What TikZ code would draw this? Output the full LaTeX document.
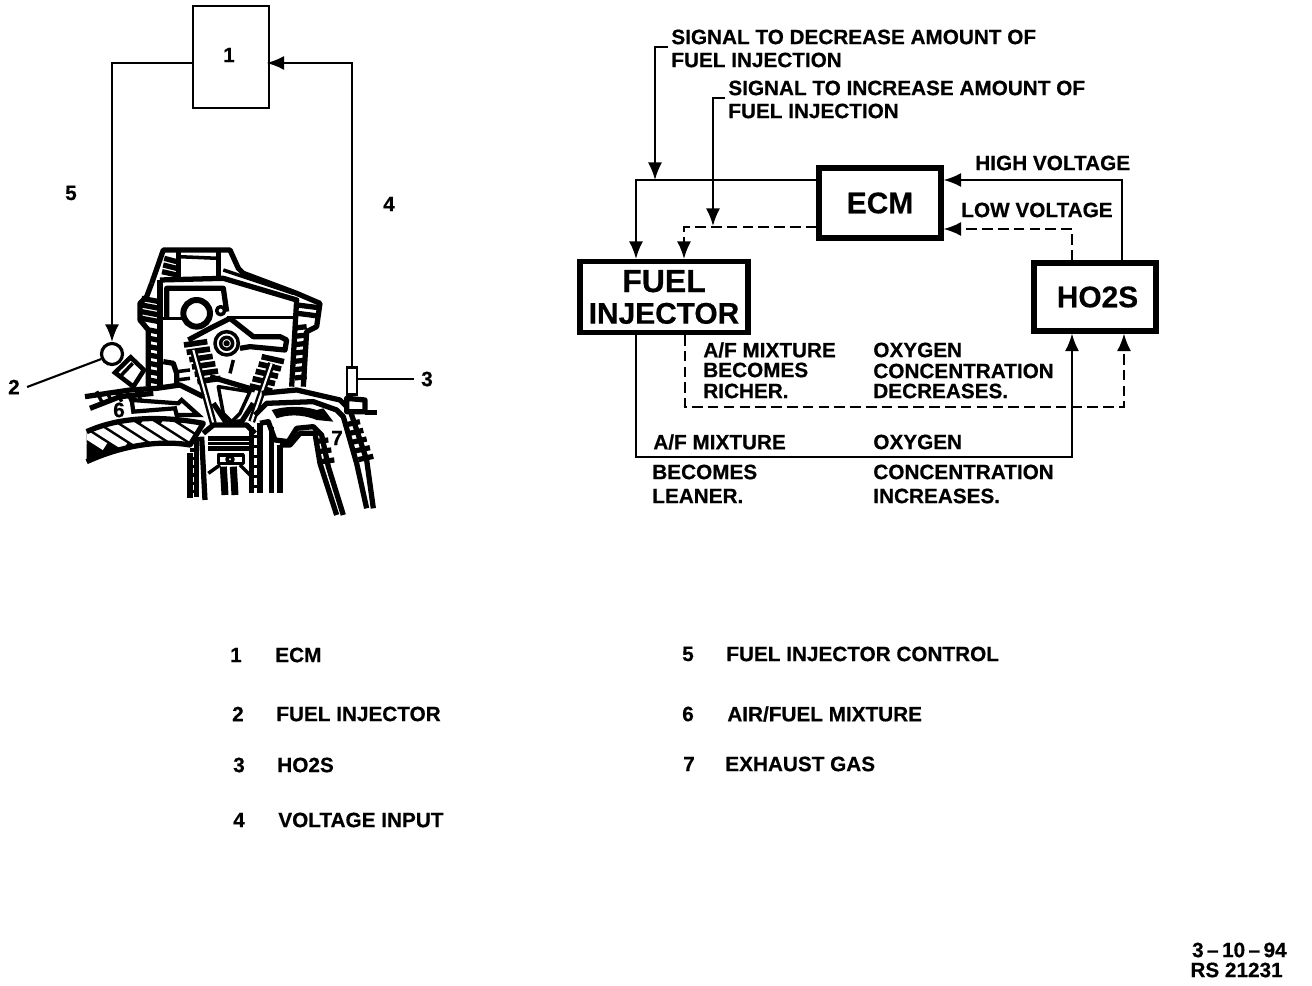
\documentclass[tikz,border=0pt]{standalone}
\usepackage{fontspec}
\setmainfont[BoldFeatures={FakeBold=0.5}]{Liberation Sans}
\usetikzlibrary{arrows.meta, positioning}

\begin{document}
\begin{tikzpicture}[
  x=0.02cm, y=-0.02cm,
  blockbox/.style={rectangle, draw=black, fill=white, line width=2.9pt, inner sep=0pt, align=center, font=\bfseries\fontsize{17}{18}\selectfont},
  thinbox/.style={rectangle, draw=black, fill=white, line width=1.2pt, inner sep=0pt},
  lbl/.style={anchor=west, inner sep=0pt, font=\bfseries\fontsize{11.8}{13}\selectfont},
  num/.style={inner sep=0pt, font=\bfseries\fontsize{11.8}{13}\selectfont},
  arr/.style={-{Latex[length=10pt,width=8pt]}, line width=1.2pt},
  plain/.style={line width=1.2pt},
  dasharr/.style={-{Latex[length=10pt,width=8pt]}, line width=1.2pt, dash pattern=on 6pt off 3pt},
  eng/.style={line width=2pt, line join=round},
  engfat/.style={line width=3pt, line join=round}
]
  \useasboundingbox (0,0) rectangle (1312,986);

  % left side, engine section
  \begin{scope}[shift={(0,230)}, x=0.00667cm, y=-0.00667cm]
    % cylinder head
    \draw[engfat] (455,160) -- (490,60) -- (690,60) -- (715,115) -- (730,130) -- (890,190) -- (960,220) -- (950,290) -- (920,305) -- (910,470);
    \draw[engfat] (455,160) -- (440,200) -- (420,220) -- (420,270) -- (445,300) -- (445,470);
    \draw[engfat] (535,60) -- (535,140);
    \draw[engfat] (655,60) -- (655,140);
    \draw[eng] (535,80) -- (655,85);
    \draw[engfat] (480,150) -- (670,145) -- (890,210) -- (875,470);
    \draw[engfat] (480,150) -- (480,470);
    \draw[eng] (670,120) -- (880,190);
    \foreach \y in {85,105,125} \draw[engfat] (495-\y/6+12,\y) -- (530,\y+10);
    \foreach \y in {205,225,245,265} \draw[engfat] (425,\y) -- (478,\y+10);
    \foreach \y in {300,325,350,375,400,425,450} \draw[engfat] (447,\y) -- (478,\y+6);
    \foreach \y in {225,250} \draw[engfat] (892,\y) -- (955,\y+8);
    \foreach \y in {290,315,340,365,390,415,440} \draw[engfat] (885,\y+4) -- (920,\y);
    % camshaft and rocker
    \draw[engfat] (500,262) -- (500,175) -- (670,175) -- (680,245);
    \draw[eng] (480,265) -- (550,265);
    \draw[eng] (680,262) -- (890,262);
    \draw[line width=3.4pt] (590,250) circle (40);
    \draw[eng] (662,242) circle (12);
    \draw[engfat] (565,330) -- (640,290) -- (690,265) -- (760,320) -- (840,320) -- (860,330) -- (855,360) -- (750,350) -- (720,355);
    \draw[eng] (680,340) circle (35);
    \draw[eng] (680,340) circle (18);
    \draw[eng] (680,340) circle (5);
    \draw[eng] (700,390) -- (690,430);
    % valve springs
    \foreach \t in {0,1,...,5}
      \draw[line width=3.2pt] (552+\t*8,345+\t*22) -- (622+\t*8,335+\t*22);
    \foreach \t in {0,1,...,4}
      \draw[line width=3.2pt] (785-\t*9,380+\t*22) -- (852-\t*9,395+\t*22);
    % valves and chamber
    \draw[line width=4pt] (580,360) -- (640,580);
    \draw[line width=1.2pt, white] (580,360) -- (640,580);
    \draw[line width=4pt] (815,400) -- (755,575);
    \draw[line width=1.2pt, white] (815,400) -- (755,575);
    \draw[engfat] (630,440) -- (765,480);
    \draw[eng] (655,470) -- (750,485) -- (720,550) -- (695,575) -- (670,550) -- cycle;
    \draw[engfat] (640,520) -- (680,580) -- (725,575) -- (760,520);
    % intake port
    \draw[engfat] (255,500) -- (390,480) -- (470,475) -- (540,465) -- (610,500);
    \draw[engfat] (270,535) -- (360,500) -- (460,490);
    \foreach \x in {290,320,350,380,410}
      \draw[eng] (\x,484) -- (\x+15,515);
    \draw[engfat] (490,395) -- (520,400) -- (530,430) -- (530,460);
    \draw[eng] (530,425) -- (570,420);
    \draw[eng] (530,450) -- (570,445);
    % lower port wall with hatching
    \fill (260,605) .. controls (370,555) and (500,560) .. (610,580) -- (570,645) .. controls (480,630) and (370,645) .. (260,695) -- cycle;
    \begin{scope}
      \clip (260,605) .. controls (370,555) and (500,560) .. (610,580) -- (570,645) .. controls (480,630) and (370,645) .. (260,695) -- cycle;
      \foreach \x in {130,190,...,550}
        \draw[white, line width=4.6pt] (\x,570) -- (\x+125,650);
    \end{scope}
    \draw[engfat] (260,605) .. controls (370,555) and (500,560) .. (610,580) -- (570,645) .. controls (480,630) and (370,645) .. (260,695);
    % air and fuel arrow
    \draw[line width=2.4pt, fill=white] (395,510) -- (535,520) -- (545,510) -- (595,555) -- (530,555) -- (525,535) -- (400,545) -- cycle;
    % exhaust arrow
    \fill (815,540) .. controls (870,525) and (920,530) .. (950,540) -- (970,535) -- (1000,575) -- (950,570) .. controls (900,550) and (860,555) .. (830,565) -- cycle;
    % exhaust port
    \draw[engfat] (785,490) -- (890,480) -- (1020,510) -- (1050,540) -- (1100,690) -- (1120,835);
    \draw[engfat] (765,555) -- (800,520) -- (940,515) -- (1010,540) -- (1030,560) -- (1070,700) -- (1100,835);
    \draw[engfat] (780,580) -- (805,575) -- (825,630) -- (865,635) -- (890,595) -- (940,590) -- (965,615) -- (985,710) -- (1030,855);
    \draw[engfat] (840,645) -- (870,645) -- (900,610) -- (945,610) -- (960,700) -- (1010,855);
    \foreach \t in {0,1,...,4}
      \draw[engfat] (1035+\t*10,585+\t*26) -- (1080+\t*10,575+\t*26);
    \foreach \t in {0,1,2}
      \draw[engfat] (945+\t*9,635+\t*30) -- (985+\t*9,630+\t*30);
    % piston and cylinder
    \draw[engfat] (610,610) -- (640,585) -- (740,585) -- (765,610);
    \draw[engfat] (625,625) -- (750,625);
    \draw[eng] (625,640) -- (750,640);
    \draw[engfat] (625,655) -- (750,655);
    \draw[eng] (655,675) rectangle (730,700);
    \draw[eng] (690,688) circle (9);
    \draw[line width=4pt] (670,710) -- (675,795);
    \draw[line width=4pt] (700,710) -- (705,795);
    \draw[eng] (625,730) -- (660,705);
    \draw[eng] (720,705) -- (755,740);
    \draw[engfat] (570,670) -- (570,805);
    \draw[engfat] (590,620) -- (590,800);
    \draw[engfat] (605,620) -- (615,810);
    \foreach \y in {660,685,710,735,760,785}
      \draw[eng] (570,\y) -- (590,\y);
    \draw[engfat] (755,590) -- (755,790);
    \draw[engfat] (780,580) -- (780,790);
    \foreach \y in {620,650,680,710,740,770}
      \draw[eng] (755,\y) -- (780,\y);
    \draw[engfat] (815,590) -- (815,790);
    \draw[engfat] (840,645) -- (840,790);
    % injector body and sensor base
    \draw[line width=2.6pt, fill=white] (345,428) -- (392,382) -- (432,420) -- (400,470) -- cycle;
    \draw[eng] (362,438) -- (398,400);
    \draw[engfat, fill=white] (1040,505) -- (1095,510) -- (1095,545) -- (1040,545) -- cycle;
    \draw[engfat] (1095,548) -- (1130,548);
  \end{scope}

  % left side, control loop
  \node[thinbox, minimum width=76*0.02cm, minimum height=102*0.02cm] (ecmsmall) at (231,57) {};
  \node[circle, draw=black, fill=white, line width=1.8pt, minimum size=0.42cm, inner sep=0pt] (injball) at (112,354) {};
  \node[rectangle, draw=black, fill=white, line width=1.6pt, minimum width=0.2cm, minimum height=0.55cm, inner sep=0pt] (hosensor) at (352,381) {};

  \node[num] (numone) at (229,55) {1};
  \node[num] (numfive) at (71,193) {5};
  \node[num] (numfour) at (389,204) {4};
  \node[num] (numtwo) at (14,387) {2};
  \node[num] (numthree) at (427,379) {3};
  \node[num] (numsix) at (119,410) {6};
  \node[num] (numseven) at (337,438) {7};

  \draw[arr] (ecmsmall.west |- 0,63) -| (injball.north);
  \draw[arr, shorten >=-2pt] (hosensor.north) |- (ecmsmall.east |- 0,63);
  \draw[plain] (numtwo.east) ++(7,0) -- (injball.205);
  \draw[plain] (numthree.west) ++(-7,0) -- (hosensor.east |- numthree.west);

  % right side, blocks
  \node[blockbox, minimum width=122*0.02cm, minimum height=70*0.02cm] (ecmblock) at (880,203) {ECM};
  \node[blockbox, minimum width=168*0.02cm, minimum height=71*0.02cm] (injblock) at (664,297) {\fontsize{18.2}{31.5}\selectfont FUEL\\INJECTOR};
  \node[blockbox, minimum width=122*0.02cm, minimum height=68*0.02cm] (hoblock) at (1095,297) {\hspace*{0.1cm}HO2S};

  % signal labels
  \node[lbl] (sigdown) at (671,37) {SIGNAL TO DECREASE AMOUNT OF};
  \node[lbl] (sigdowntwo) at (671,60) {FUEL INJECTION};
  \node[lbl] (sigup) at (728,88) {SIGNAL TO INCREASE AMOUNT OF};
  \node[lbl] (siguptwo) at (728,111) {FUEL INJECTION};
  \node[lbl] (highv) at (975,163) {HIGH VOLTAGE};
  \node[lbl] (lowv) at (961,210) {LOW VOLTAGE};

  \node[lbl] (rich) at (703,350) {A/F MIXTURE};
  \node[lbl] (richtwo) at (703,370) {BECOMES};
  \node[lbl] (richthree) at (703,391) {RICHER.};
  \node[lbl] (oxdec) at (873,350) {OXYGEN};
  \node[lbl] (oxdectwo) at (873,371) {CONCENTRATION};
  \node[lbl] (oxdecthree) at (873,391) {DECREASES.};
  \node[lbl] (lean) at (653,442) {A/F MIXTURE};
  \node[lbl] (leantwo) at (652,472) {BECOMES};
  \node[lbl] (leanthree) at (652,496) {LEANER.};
  \node[lbl] (oxinc) at (873,442) {OXYGEN};
  \node[lbl] (oxinctwo) at (873,472) {CONCENTRATION};
  \node[lbl] (oxincthree) at (873,496) {INCREASES.};

  % right side, loop
  \draw[arr] (ecmblock.west |- 0,180) -| (injblock.north -| 636,0);
  \draw[dasharr] (ecmblock.west |- 0,227) -| (injblock.north -| 684,0);
  \draw[arr] (hoblock.north -| 1122,0) |- (ecmblock.east |- 0,180);
  \draw[dasharr] (hoblock.north -| 1072,0) |- (ecmblock.east |- 0,229);
  \draw[arr] (injblock.south -| 636,0) |- (1072,457) -- (hoblock.south -| 1072,0);
  \draw[dasharr] (injblock.south -| 685,0) |- (1124,407) -- (hoblock.south -| 1124,0);
  \coordinate (downhit) at (655,180);
  \coordinate (uphit) at (713,226);
  \draw[arr] (sigdown.west |- 0,47) ++(-3,0) -| (downhit);
  \draw[arr] (sigup.west |- 0,98) ++(-3,0) -| (uphit);

  % legend
  \node[num] (keyone) at (236,655) {1};
  \node[lbl] (keyonet) at (275,655) {ECM};
  \node[num] (keytwo) at (238,714) {2};
  \node[lbl] (keytwot) at (276,714) {FUEL INJECTOR};
  \node[num] (keythree) at (239,765) {3};
  \node[lbl] (keythreet) at (277,765) {HO2S};
  \node[num] (keyfour) at (239,820) {4};
  \node[lbl] (keyfourt) at (278,820) {VOLTAGE INPUT};
  \node[num] (keyfive) at (688,654) {5};
  \node[lbl] (keyfivet) at (726,654) {FUEL INJECTOR CONTROL};
  \node[num] (keysix) at (688,714) {6};
  \node[lbl] (keysixt) at (727,714) {AIR/FUEL MIXTURE};
  \node[num] (keyseven) at (689,764) {7};
  \node[lbl] (keysevent) at (725,764) {EXHAUST GAS};

  \node[num, anchor=east] (stampdate) at (1287,950) {3\,--\,10\,--\,94};
  \node[num, anchor=east] (stampno) at (1283,970) {RS 21231};
\end{tikzpicture}
\end{document}
